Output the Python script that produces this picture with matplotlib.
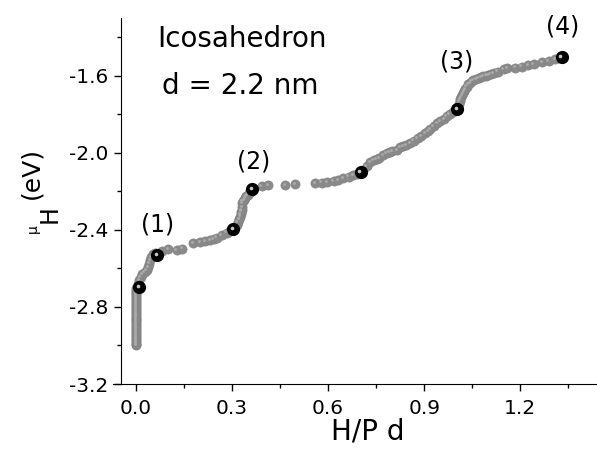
import matplotlib
matplotlib.use('Agg')
import matplotlib.pyplot as plt
from matplotlib.ticker import MultipleLocator, FormatStrFormatter
from matplotlib.transforms import offset_copy

plt.rcParams['font.family'] = 'DejaVu Sans'
plt.rcParams['axes.unicode_minus'] = False

# gray points (all configurations)
gray_x = [0.0, 0.0, 0.0, 0.0, 0.0, 0.0, 0.0, 0.0, 0.0, 0.0, 0.0, 0.0, 0.0, 0.0, 0.0, 0.0,
          0.0, 0.0, 0.0, 0.0, 0.0, 0.0, 0.0, 0.0, 0.0, 0.0, 0.0, 0.0, 0.0, 0.0, 0.0,
          0.005, 0.010, 0.015, 0.020, 0.027, 0.033, 0.038, 0.042, 0.045, 0.048, 0.053, 0.060,
          0.080, 0.101, 0.127, 0.145, 0.179, 0.200, 0.216, 0.231, 0.242, 0.252, 0.268, 0.283, 0.292,
          0.310, 0.315, 0.318, 0.322, 0.325, 0.327, 0.329, 0.330, 0.331, 0.332, 0.333, 0.337, 0.341,
          0.345, 0.349, 0.352, 0.356, 0.358,
          0.393, 0.413, 0.466, 0.497, 0.559, 0.580, 0.598, 0.617, 0.632, 0.648, 0.664, 0.679, 0.690,
          0.710, 0.720, 0.731, 0.742, 0.752, 0.760, 0.772, 0.783, 0.792, 0.800, 0.815, 0.825, 0.835,
          0.843, 0.856, 0.867, 0.880, 0.890, 0.903, 0.912, 0.919, 0.930, 0.940, 0.950, 0.963, 0.971,
          0.980, 0.990,
          1.005, 1.008, 1.011, 1.013, 1.016, 1.018, 1.022, 1.025, 1.029, 1.033, 1.038, 1.043, 1.048,
          1.054, 1.062, 1.070, 1.078, 1.085, 1.093, 1.100, 1.108, 1.117, 1.130, 1.148,
          1.160, 1.184, 1.205, 1.226, 1.242, 1.268, 1.289, 1.309, 1.320]
gray_y = [-3.00, -2.99, -2.98, -2.97, -2.96, -2.95, -2.94, -2.93, -2.92, -2.91, -2.90, -2.89, -2.88, -2.87, -2.86, -2.85,
          -2.84, -2.83, -2.82, -2.81, -2.80, -2.79, -2.78, -2.77, -2.76, -2.75, -2.74, -2.73, -2.72, -2.71, -2.70,
          -2.68, -2.66, -2.645, -2.63, -2.62, -2.61, -2.595, -2.575, -2.555, -2.54, -2.525, -2.52,
          -2.512, -2.50, -2.504, -2.497, -2.469, -2.462, -2.459, -2.452, -2.448, -2.44, -2.426, -2.414, -2.405,
          -2.385, -2.374, -2.36, -2.345, -2.331, -2.318, -2.305, -2.296, -2.28, -2.261, -2.25, -2.245, -2.235,
          -2.225, -2.218, -2.21, -2.201, -2.196,
          -2.171, -2.166, -2.168, -2.161, -2.157, -2.154, -2.151, -2.146, -2.140, -2.131, -2.123, -2.114, -2.110,
          -2.09, -2.07, -2.05, -2.036, -2.030, -2.025, -2.012, -2.002, -1.996, -1.99, -1.984, -1.97, -1.965,
          -1.96, -1.95, -1.936, -1.925, -1.912, -1.895, -1.885, -1.875, -1.862, -1.846, -1.835, -1.825, -1.811,
          -1.80, -1.79,
          -1.76, -1.745, -1.73, -1.72, -1.71, -1.70, -1.69, -1.68, -1.668, -1.656, -1.645, -1.636, -1.628,
          -1.621, -1.616, -1.612, -1.608, -1.603, -1.599, -1.595, -1.590, -1.586, -1.578, -1.564,
          -1.560, -1.557, -1.552, -1.543, -1.538, -1.529, -1.522, -1.512, -1.508]

# highlighted configurations
black_x = [0.009, 0.066, 0.304, 0.363, 0.702, 1.003, 1.330]
black_y = [-2.696, -2.530, -2.396, -2.189, -2.100, -1.773, -1.505]

label_x = [0.066, 0.366, 1.000, 1.334]
label_y = [-2.374, -2.047, -1.527, -1.345]
label_txt = ['(1)', '(2)', '(3)', '(4)']

fig = plt.figure(figsize=(5.97, 4.55), dpi=100)
ax = fig.add_axes([113 / 597, 71 / 455, 484 / 597, 366 / 455])

hl = offset_copy(ax.transData, fig=fig, x=-1.0, y=0.8, units='points')
ax.plot(gray_x, gray_y, 'o', ms=6.6, color='#8a8a8a', mec='#838383', mew=0.5, zorder=2)
ax.plot(gray_x, gray_y, 'o', ms=2.0, color='#acacac', mew=0, transform=hl, zorder=3)
ax.plot(black_x, black_y, 'o', ms=9.5, color='black', mew=0, zorder=4)
ax.plot(black_x, black_y, 'o', ms=2.6, color='#c8c8c8', mew=0, transform=hl, zorder=5)

for x, y, t in zip(label_x, label_y, label_txt):
    ax.text(x, y, t, fontsize=17, ha='center', va='center')

ax.text(0.33, -1.449, 'Icosahedron', fontsize=20, ha='center', va='baseline')
ax.text(0.325, -1.694, 'd = 2.2 nm', fontsize=20, ha='center', va='baseline')

ax.set_xlim(-0.072, 1.44)
ax.set_ylim(-3.2, -1.3)
ax.spines['top'].set_visible(False)
ax.spines['right'].set_visible(False)
ax.spines['left'].set_position(('data', -0.047))
ax.xaxis.set_major_locator(MultipleLocator(0.3))
ax.xaxis.set_minor_locator(MultipleLocator(0.15))
ax.yaxis.set_major_locator(MultipleLocator(0.4))
ax.yaxis.set_minor_locator(MultipleLocator(0.2))
ax.xaxis.set_major_formatter(FormatStrFormatter('%.1f'))
ax.yaxis.set_major_formatter(FormatStrFormatter('%.1f'))
ax.tick_params(which='major', direction='out', length=5, width=1, labelsize=14.5)
ax.tick_params(axis='x', which='major', pad=6)
ax.tick_params(axis='y', which='major', pad=4)
ax.tick_params(which='minor', direction='out', length=3, width=1)

# axis titles
fig.text(368 / 597, 1 - 432 / 455, 'H/P d', fontsize=20, ha='center', va='center')
fig.text(31 / 597, 1 - 173 / 455, '(eV)', fontsize=18, rotation=90, ha='center', va='center')
fig.text(50 / 597, 1 - 214 / 455, 'H', fontsize=17, rotation=90, ha='center', va='center')
fig.text(33 / 597, 1 - 229 / 455, 'μ', fontsize=10, rotation=90, ha='center', va='center')

fig.savefig('out.png', dpi=100)
